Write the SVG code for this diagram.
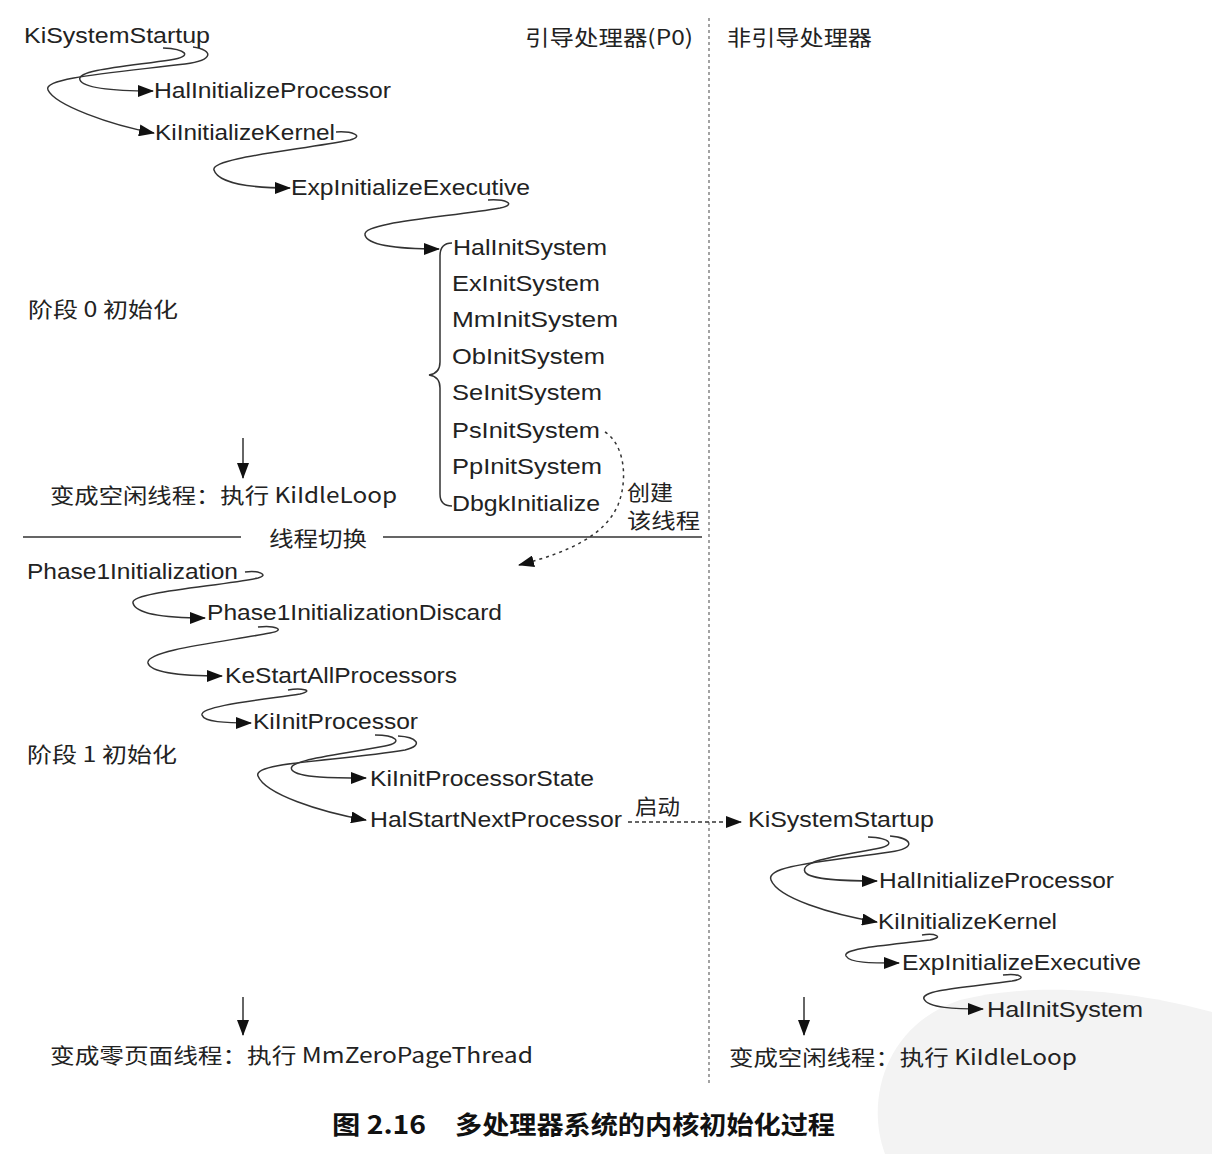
<svg xmlns="http://www.w3.org/2000/svg" width="1212" height="1154" viewBox="0 0 1212 1154">
<defs>
<style>
.t{font-family:"Liberation Sans","Noto Sans",sans-serif;font-size:22px;fill:#222}
.c{font-family:"Noto Sans CJK SC","Liberation Sans",sans-serif;font-size:21px;fill:#222}
.cap{font-family:"Noto Sans CJK SC","Liberation Sans",sans-serif;font-size:25px;font-weight:bold;fill:#111}
.ln{fill:none;stroke:#333;stroke-width:1.5}
.ar{fill:none;stroke:#333;stroke-width:1.5;marker-end:url(#ah)}
.dot{fill:none;stroke:#333;stroke-width:1.5;stroke-dasharray:3 4;marker-end:url(#ah)}
.dsh{fill:none;stroke:#333;stroke-width:1.3;stroke-dasharray:4 3;marker-end:url(#ah)}
.vd{fill:none;stroke:#666;stroke-width:1.2;stroke-dasharray:3 3}
</style>
<marker id="ah" viewBox="0 0 16 12" refX="15" refY="6" markerWidth="16" markerHeight="12" markerUnits="userSpaceOnUse" orient="auto">
<path d="M0,0 L16,6 L0,12 z" fill="#111"/>
</marker>
</defs>
<rect width="1212" height="1154" fill="#fff"/>
<path d="M885 1154 C 865 1100, 885 1025, 960 1000 C 1040 980, 1140 992, 1212 1012 L1212 1154 z" fill="#f3f3f3"/>

<g id="headers">
<text class="c" x="525" y="45" textLength="168" lengthAdjust="spacingAndGlyphs">引导处理器(P0)</text>
<text class="c" x="727" y="45" textLength="145" lengthAdjust="spacingAndGlyphs">非引导处理器</text>
<text class="c" x="28" y="317" textLength="150" lengthAdjust="spacingAndGlyphs">阶段 0 初始化</text>
<text class="c" x="27" y="762" textLength="150" lengthAdjust="spacingAndGlyphs">阶段 1 初始化</text>
</g>

<g id="connectors">
<line class="vd" x1="709" y1="18" x2="709" y2="1085"/>
<path class="ln" d="M23 537 H241 M383 537 H702"/>
<path class="ar" d="M163 48 C185 49,195 56,170 60 C130 66,75 70,80 80 C84 89,120 91,153 91"/>
<path class="ar" d="M193 47 C213 50,215 60,185 64 C110 73,42 78,48 90 C55 105,110 125,154 133"/>
<path class="ar" d="M336 132 C352 131,365 136,350 140 C300 150,210 158,214 170 C218 183,250 188,290 188"/>
<path class="ar" d="M488 200 C505 199,518 204,500 208 C450 217,362 222,365 235 C368 247,405 249,439 249"/>
<path class="ln" d="M452 243 C444 243,440 248,440 256 L440 362 C440 370,436 374,429 375 C436 376,440 380,440 388 L440 494 C440 502,444 506,452 506"/>
<path class="dot" d="M605 432 C625 445,628 480,618 505 C605 535,570 552,519 565"/>
<line class="ar" x1="243" y1="438" x2="243" y2="478"/>
<path class="ar" d="M245 572 C258 570,270 575,258 578 C220 586,130 592,133 603 C136 615,170 618,205 618"/>
<path class="ar" d="M258 627 C275 625,287 630,270 633 C230 641,145 650,148 663 C151 674,190 676,222 676"/>
<path class="ar" d="M288 690 C300 688,316 690,300 694 C260 700,200 706,202 715 C204 722,225 723,251 723"/>
<path class="ar" d="M375 735 C395 735,405 742,385 746 C340 755,285 760,292 770 C298 778,335 778,366 778"/>
<path class="ar" d="M398 736 C416 737,425 745,405 750 C340 761,252 762,258 776 C265 794,320 812,366 820"/>
<path class="dsh" d="M628 822 H741"/>
<path class="ar" d="M868 837 C890 838,898 845,875 849 C830 857,800 862,805 872 C810 880,845 881,877 881"/>
<path class="ar" d="M890 836 C912 838,918 848,890 852 C820 862,765 866,771 880 C778 898,830 914,877 922"/>
<path class="ar" d="M922 935 C935 933,945 937,930 940 C890 945,842 948,846 956 C850 963,870 963,899 963"/>
<path class="ar" d="M1003 975 C1018 973,1030 978,1012 981 C970 987,920 990,924 999 C928 1008,955 1009,983 1009"/>
<line class="ar" x1="243" y1="997" x2="243" y2="1035"/>
<line class="ar" x1="804" y1="997" x2="804" y2="1035"/>
</g>

<g id="p0-phase0">
<g id="n-kisystemstartup"><text class="t" x="24" y="43" textLength="186" lengthAdjust="spacingAndGlyphs">KiSystemStartup</text></g>
<g id="n-halinitproc"><text class="t" x="154" y="98" textLength="237" lengthAdjust="spacingAndGlyphs">HalInitializeProcessor</text></g>
<g id="n-kiinitkernel"><text class="t" x="155" y="140" textLength="180" lengthAdjust="spacingAndGlyphs">KiInitializeKernel</text></g>
<g id="n-expinit"><text class="t" x="291" y="195" textLength="239" lengthAdjust="spacingAndGlyphs">ExpInitializeExecutive</text></g>
<g id="n-halinitsys"><text class="t" x="453" y="255" textLength="154" lengthAdjust="spacingAndGlyphs">HalInitSystem</text></g>
<g id="n-exinit"><text class="t" x="452" y="291" textLength="148" lengthAdjust="spacingAndGlyphs">ExInitSystem</text></g>
<g id="n-mminit"><text class="t" x="452" y="327" textLength="166" lengthAdjust="spacingAndGlyphs">MmInitSystem</text></g>
<g id="n-obinit"><text class="t" x="452" y="364" textLength="153" lengthAdjust="spacingAndGlyphs">ObInitSystem</text></g>
<g id="n-seinit"><text class="t" x="452" y="400" textLength="150" lengthAdjust="spacingAndGlyphs">SeInitSystem</text></g>
<g id="n-psinit"><text class="t" x="452" y="438" textLength="148" lengthAdjust="spacingAndGlyphs">PsInitSystem</text></g>
<g id="n-ppinit"><text class="t" x="452" y="474" textLength="150" lengthAdjust="spacingAndGlyphs">PpInitSystem</text></g>
<g id="n-dbgk"><text class="t" x="452" y="511" textLength="148" lengthAdjust="spacingAndGlyphs">DbgkInitialize</text></g>
<g id="n-idle0"><text class="c" x="50" y="503" textLength="347" lengthAdjust="spacingAndGlyphs">变成空闲线程：执行 KiIdleLoop</text></g>
<g id="l-create"><text class="c" x="627" y="500" textLength="46" lengthAdjust="spacingAndGlyphs">创建</text><text class="c" x="627" y="528" textLength="73" lengthAdjust="spacingAndGlyphs">该线程</text></g>
<g id="l-switch"><text class="c" x="269" y="546" textLength="98" lengthAdjust="spacingAndGlyphs">线程切换</text></g>
</g>

<g id="p0-phase1">
<g id="n-phase1"><text class="t" x="27" y="579" textLength="211" lengthAdjust="spacingAndGlyphs">Phase1Initialization</text></g>
<g id="n-phase1d"><text class="t" x="207" y="620" textLength="295" lengthAdjust="spacingAndGlyphs">Phase1InitializationDiscard</text></g>
<g id="n-kestart"><text class="t" x="225" y="683" textLength="232" lengthAdjust="spacingAndGlyphs">KeStartAllProcessors</text></g>
<g id="n-kiinitproc"><text class="t" x="253" y="729" textLength="165" lengthAdjust="spacingAndGlyphs">KiInitProcessor</text></g>
<g id="n-kiinitprocstate"><text class="t" x="370" y="786" textLength="224" lengthAdjust="spacingAndGlyphs">KiInitProcessorState</text></g>
<g id="n-halstartnext"><text class="t" x="370" y="827" textLength="252" lengthAdjust="spacingAndGlyphs">HalStartNextProcessor</text></g>
<g id="l-start"><text class="c" x="635" y="814" textLength="45" lengthAdjust="spacingAndGlyphs">启动</text></g>
<g id="n-zeropage"><text class="c" x="50" y="1063" textLength="483" lengthAdjust="spacingAndGlyphs">变成零页面线程：执行 MmZeroPageThread</text></g>
</g>

<g id="nonboot">
<g id="r-kisystemstartup"><text class="t" x="748" y="827" textLength="186" lengthAdjust="spacingAndGlyphs">KiSystemStartup</text></g>
<g id="r-halinitproc"><text class="t" x="879" y="888" textLength="235" lengthAdjust="spacingAndGlyphs">HalInitializeProcessor</text></g>
<g id="r-kiinitkernel"><text class="t" x="878" y="929" textLength="179" lengthAdjust="spacingAndGlyphs">KiInitializeKernel</text></g>
<g id="r-expinit"><text class="t" x="902" y="970" textLength="239" lengthAdjust="spacingAndGlyphs">ExpInitializeExecutive</text></g>
<g id="r-halinitsys"><text class="t" x="987" y="1017" textLength="156" lengthAdjust="spacingAndGlyphs">HalInitSystem</text></g>
<g id="r-idle"><text class="c" x="729" y="1065" textLength="348" lengthAdjust="spacingAndGlyphs">变成空闲线程：执行 KiIdleLoop</text></g>
</g>

<g id="caption">
<text class="cap" x="332" y="1134" textLength="94" lengthAdjust="spacingAndGlyphs">图 2.16</text>
<text class="cap" x="455" y="1134" textLength="380" lengthAdjust="spacingAndGlyphs">多处理器系统的内核初始化过程</text>
</g>
</svg>
